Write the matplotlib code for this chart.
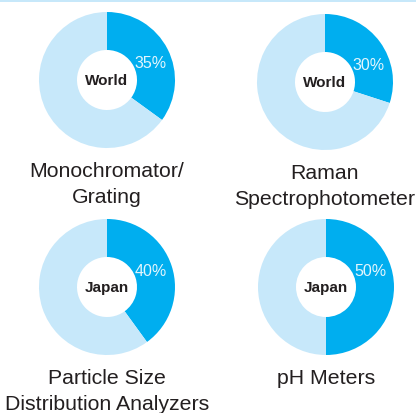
import matplotlib
matplotlib.use("Agg")
import matplotlib.pyplot as plt

# Market share data
products = ["Monochromator/\nGrating", "Raman\nSpectrophotometer",
            "Particle Size\nDistribution Analyzers", "pH Meters"]
regions = ["World", "World", "Japan", "Japan"]
shares = [35, 30, 40, 50]

# Layout (pixel coordinates, origin top-left)
centers = [(107, 81), (325, 83), (107, 288), (326, 288)]
R_OUT, R_IN = 68, 30
W, H = 416, 414

DARK = "#00AEEF"
LIGHT = "#C7E8FA"
TEXT = "#231F20"

plt.rcParams["font.family"] = ["Liberation Sans", "DejaVu Sans"]

fig = plt.figure(figsize=(W / 100, H / 100), dpi=100)
ax = fig.add_axes([0, 0, 1, 1])

# thin top band
ax.axhspan(H - 2.5, H, color=LIGHT, lw=0)

for (cx, cy), share, region, name in zip(centers, shares, regions, products):
    y = H - cy
    ax.pie([share, 100 - share], colors=[DARK, LIGHT], startangle=90,
           counterclock=False, center=(cx, y), radius=R_OUT,
           wedgeprops=dict(width=R_OUT - R_IN, linewidth=0),
           frame=True)
    ax.text(cx, y, region, ha="center", va="center", fontsize=11,
            fontweight="bold", color=TEXT)
    ax.text(cx + 44, y + 17, f"{share}%", ha="center", va="center",
            fontsize=11.5, color="#E3F5FD")
    for i, line in enumerate(name.split("\n")):
        ax.text(cx, y - 96 - 26 * i, line, ha="center", va="baseline",
                fontsize=15.3, color=TEXT)

ax.set_xlim(0, W)
ax.set_ylim(0, H)
ax.set_aspect("auto")
ax.axis("off")

fig.savefig("out.png", dpi=100)
